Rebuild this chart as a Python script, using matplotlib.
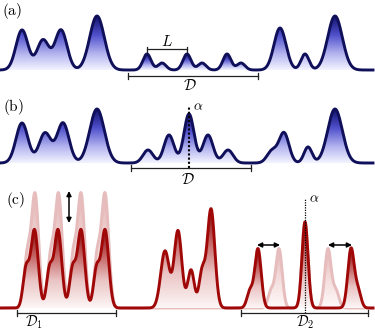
import numpy as np
import matplotlib
matplotlib.use("Agg")
import matplotlib.pyplot as plt
from matplotlib.colors import LinearSegmentedColormap

plt.rcParams['mathtext.fontset'] = 'cm'

# ---------------- data: peak centres / heights / widths ----------------
a_centers = [22, 43, 61, 97, 147, 162, 187, 202, 227, 241, 280, 305, 335]
a_heights = [40, 30, 40, 54, 16, 7, 16, 7, 16, 7, 42, 16, 54]
a_widths  = [6, 6, 6, 7.3, 4, 4, 4, 4, 4, 4, 6, 4, 7.3]

b_centers = [22, 45, 63, 97, 148, 169, 189, 208, 228, 272, 284, 308, 335]
b_heights = [40, 30, 40, 54, 13, 28, 49, 28, 13, 12, 30, 16, 54]
b_widths  = [6, 6, 6, 7.3, 5, 5, 5, 5, 5, 5, 5, 4, 7.3]

c_centers = [26, 34.5, 49.5, 58, 72.5, 81, 96.5, 105,
             165, 178, 191, 202, 211,
             250, 258, 305, 351, 358]
c_heights = [38, 78, 38, 78, 38, 78, 38, 78,
             57, 77, 38, 35, 99,
             17, 59, 86, 59, 17]
c_widths  = [3, 3.7, 3, 3.7, 3, 3.7, 3, 3.7,
             4.3, 3.8, 3.3, 3, 3.8,
             3, 3.2, 3, 3.2, 3]

c0_centers = [27, 35, 50.5, 58.5, 73, 81, 97, 105,
              271, 279, 305, 328, 336]
c0_heights = [48, 114, 48, 114, 48, 114, 48, 114,
              17, 59, 86, 59, 17]
c0_widths  = [3, 3.7, 3, 3.7, 3, 3.7, 3, 3.7,
              3, 3.2, 3, 3.2, 3]

x = np.linspace(0, 373, 2400)


def curve(cs, hs, ws):
    y = np.zeros_like(x)
    for c, h, w in zip(cs, hs, ws):
        y += h * np.exp(-(x - c) ** 2 / (2 * w ** 2))
    return y


blue_cmap = LinearSegmentedColormap.from_list(
    'b', [(0, '#f4f4ff'), (0.3, '#b4b4f0'), (0.65, '#5050cc'), (1, '#12126c')])
red_cmap = LinearSegmentedColormap.from_list(
    'r', [(0, '#fdf6f6'), (0.35, '#eac4c4'), (0.7, '#c05858'), (1, '#7a0606')])
pink_cmap = LinearSegmentedColormap.from_list(
    'p', [(0, '#fffafa'), (0.5, '#f4dcdc'), (1, '#e4b4b4')])


def grad_fill(ax, y, cmap, z=1):
    poly = ax.fill_between(x, 0, y, facecolor='none', edgecolor='none')
    mask = y > 0.8
    gmax = np.full_like(y, 1.0)
    i = 0
    n = len(y)
    while i < n:
        if mask[i]:
            j = i
            while j < n and mask[j]:
                j += 1
            gmax[i:j] = y[i:j].max()
            i = j
        else:
            i += 1
    ymax = y.max()
    yg = np.linspace(0, ymax, 300)
    T = np.clip(yg[:, None] / gmax[None, :], 0, 1)
    rgba = cmap(T)
    im = ax.imshow(rgba, extent=[x[0], x[-1], 0, ymax], origin='lower',
                   aspect='auto', zorder=z, interpolation='bilinear')
    im.set_clip_path(poly.get_paths()[0], transform=ax.transData)


def bracket(ax, x0, x1, yb, cap=3):
    ax.plot([x0, x1], [yb, yb], color='#222222', lw=0.9, zorder=5)
    for xx in (x0, x1):
        ax.plot([xx, xx], [yb - cap, yb + cap], color='#222222', lw=0.9, zorder=5)


fig = plt.figure(figsize=(3.75, 3.31), dpi=100)
H = 331.0


def make_ax(top, bottom, base):
    ax = fig.add_axes([0, 1 - bottom / H, 1, (bottom - top) / H])
    ax.set_xlim(0, 375)
    ax.set_ylim(base - bottom, base - top)
    ax.axis('off')
    return ax


navy = '#10105a'
dred = '#a00808'
LW = 2.1

# ---------------- panel (a) ----------------
axa = make_ax(0, 92, 70)
ya = curve(a_centers, a_heights, a_widths)
grad_fill(axa, ya, blue_cmap)
axa.plot(x, ya, color=navy, lw=LW, zorder=3)
bracket(axa, 147, 187, 21, cap=2.5)
axa.text(167, 29, r'$L$', fontsize=11, ha='center', va='center')
bracket(axa, 128, 258, -6)
axa.text(190, -15, r'$\mathcal{D}$', fontsize=11, ha='center', va='center')
axa.text(2, 59, r'$\mathrm{(a)}$', fontsize=11, ha='left', va='center')

# ---------------- panel (b) ----------------
axb = make_ax(92, 185, 163)
yb = curve(b_centers, b_heights, b_widths)
grad_fill(axb, yb, blue_cmap)
axb.plot(x, yb, color=navy, lw=LW, zorder=3)
axb.plot([189, 189], [-5, 57], color='black', lw=1.5, ls=(0, (1, 1)), zorder=4)
axb.text(193, 57, r'$\alpha$', fontsize=10, ha='left', va='center')
bracket(axb, 131, 251, -5)
axb.text(188, -16, r'$\mathcal{D}$', fontsize=11, ha='center', va='center')
axb.text(3, 56, r'$\mathrm{(b)}$', fontsize=11, ha='left', va='center')

# ---------------- panel (c) ----------------
axc = make_ax(185, 331, 308)
yc0 = curve(c0_centers, c0_heights, c0_widths)
yc = curve(c_centers, c_heights, c_widths)
grad_fill(axc, yc0, pink_cmap, z=1)
axc.plot(x, yc0, color='#e6bcbc', lw=LW, zorder=1.5)
grad_fill(axc, yc, red_cmap, z=2)
axc.plot(x, yc, color=dred, lw=LW, zorder=3)
axc.annotate('', xy=(69, 117), xytext=(69, 85),
             arrowprops=dict(arrowstyle='<|-|>', color='black', lw=1.1,
                             mutation_scale=7, shrinkA=0, shrinkB=0), zorder=6)
for x0, x1 in [(257, 280), (328, 352)]:
    axc.annotate('', xy=(x0, 63), xytext=(x1, 63),
                 arrowprops=dict(arrowstyle='<|-|>', color='black', lw=1.1,
                                 mutation_scale=7, shrinkA=0, shrinkB=0), zorder=6)
axc.plot([305, 305], [-5, 110], color='black', lw=0.9, ls=(0, (1, 1)), zorder=4)
axc.text(309, 110, r'$\alpha$', fontsize=10, ha='left', va='center')
bracket(axc, 17, 116, -5)
axc.text(34, -14.5, r'$\mathcal{D}_1$', fontsize=10.5, ha='center', va='center')
bracket(axc, 241, 368, -5)
axc.text(305, -14.5, r'$\mathcal{D}_2$', fontsize=10.5, ha='center', va='center')
axc.text(6, 108, r'$\mathrm{(c)}$', fontsize=11, ha='left', va='center')

fig.savefig('out.png', dpi=100)
